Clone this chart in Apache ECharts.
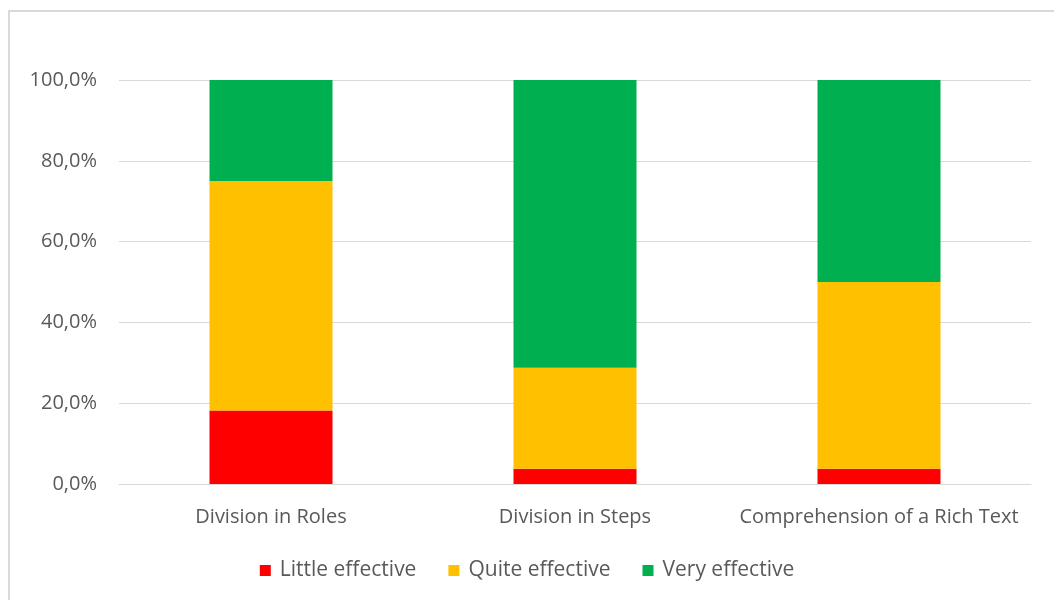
<!DOCTYPE html>
<html>
<head>
<meta charset="utf-8">
<script src="https://cdn.jsdelivr.net/npm/echarts@6/dist/echarts.min.js"></script>
<style>
  html, body { margin: 0; padding: 0; background: #ffffff; }
  #frame { position: absolute; left: 8px; top: 10px; width: 1046px; height: 590px;
           border-left: 2px solid #d9d9d9; border-top: 2px solid #d9d9d9; box-sizing: border-box; }
  #chart { position: absolute; left: 0; top: 0; width: 1054px; height: 600px; }
</style>
</head>
<body>
<div id="frame"></div>
<div id="chart"></div>
<script>
// Share of ratings per teaching strategy (percent)
const categories = ['Division in Roles', 'Division in Steps', 'Comprehension of a Rich Text'];
const littleEffective = [18.2, 3.8, 3.8];
const quiteEffective = [56.8, 25.0, 46.2];
const veryEffective = [25.0, 71.2, 50.0];
const seriesNames = ['Little effective', 'Quite effective', 'Very effective'];
const seriesColors = ['#ff0000', '#ffc000', '#00b050'];

const font = '"Open Sans", "Liberation Sans", sans-serif';
const fontSize = 20;
const chart = echarts.init(document.getElementById('chart'), null, { renderer: 'canvas' });

const dataSets = [littleEffective, quiteEffective, veryEffective];
chart.setOption({
  animation: false,
  textStyle: { fontFamily: font },
  grid: { left: 119, right: 23, top: 80, bottom: 116, containLabel: false },
  legend: {
    top: 555,
    left: 'center',
    itemWidth: 11,
    itemHeight: 11,
    itemGap: 32,
    icon: 'rect',
    textStyle: { color: '#595959', fontSize: 21, fontFamily: font, padding: [0, 0, 0, 4] },
    data: seriesNames
  },
  xAxis: {
    type: 'category',
    data: categories,
    axisLine: { show: true, lineStyle: { color: '#d9d9d9', width: 1 } },
    axisTick: { show: false },
    axisLabel: {
      color: '#595959', fontSize: fontSize, margin: 23, fontFamily: font,
      interval: 0, hideOverlap: false
    }
  },
  yAxis: {
    type: 'value',
    min: 0,
    max: 100,
    interval: 20,
    axisLine: { show: false },
    axisTick: { show: false },
    splitLine: { lineStyle: { color: '#d9d9d9', width: 1 } },
    axisLabel: {
      color: '#595959', fontSize: fontSize, margin: 22, fontFamily: font,
      formatter: v => v.toFixed(1).replace('.', ',') + '%'
    }
  },
  series: seriesNames.map((name, i) => ({
    name,
    type: 'bar',
    stack: 'total',
    barWidth: 123,
    itemStyle: { color: seriesColors[i] },
    data: dataSets[i]
  }))
});
</script>
</body>
</html>
